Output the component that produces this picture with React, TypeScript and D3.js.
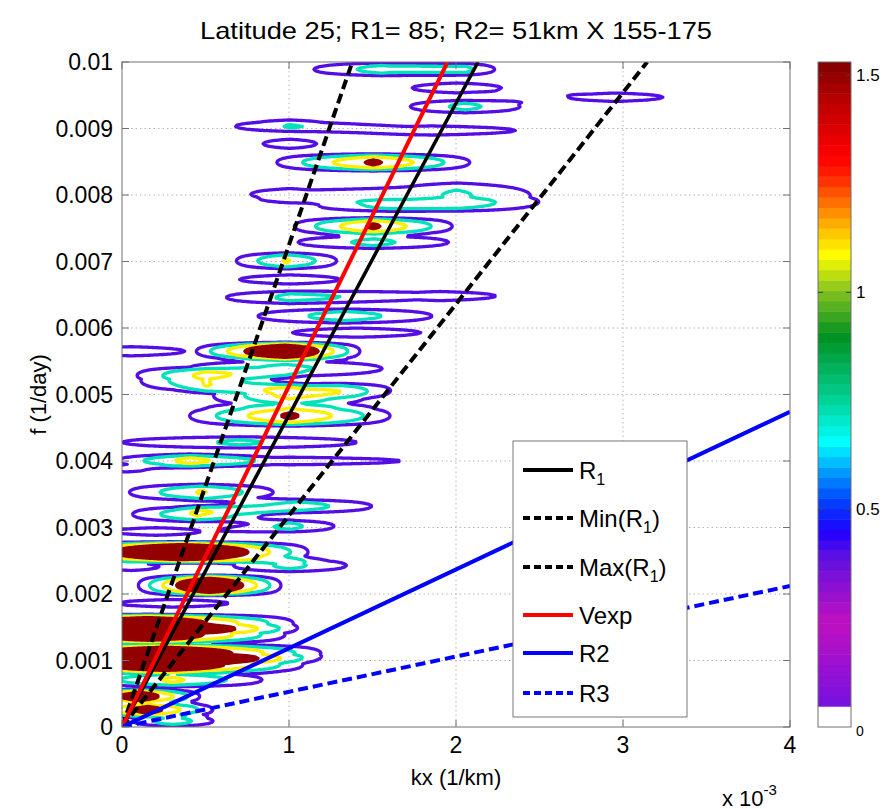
import React from 'react';
import * as d3 from 'd3';

// ---------- data ----------
const titleText = 'Latitude 25; R1= 85; R2= 51km X 155-175';
const kxTicks = [0, 1, 2, 3, 4]; // x 10^-3 1/km
const kxTickLabels = ['0', '1', '2', '3', '4'];
const fTicks = [0, 1, 2, 3, 4, 5, 6, 7, 8, 9, 10]; // x 10^-3 1/day
const fTickLabels = ['0', '0.001', '0.002', '0.003', '0.004', '0.005', '0.006', '0.007', '0.008', '0.009', '0.01'];
const cbTicks = [0, 0.5, 1, 1.5];
const cbTickLabels = ['0', '0.5', '1', '1.5'];
const cbMax = 1.53;

// colormap stops (value -> colour)
const cmapStops = [0, 0.045, 0.05, 0.1, 0.24, 0.39, 0.45, 0.52, 0.59, 0.655, 0.76, 0.9, 1.0, 1.085, 1.17, 1.27, 1.31, 1.43, 1.53];
const cmapColors = ['#ffffff', '#ffffff', '#7414e0', '#8a10d8', '#c010c0', '#6010e0', '#2000ff', '#0040ff', '#00a0ff', '#00ffff', '#00d090', '#009020', '#80c020', '#ffff00', '#ffa000', '#ff2000', '#ff0000', '#c00000', '#800000'];

// contour levels
const contourLevels = [0.4, 0.72, 1.1, 1.5];

// spectral peaks: [kx (1e-3), f (1e-3), amplitude, kx half-width (1e-3), f half-height (1e-3)]
const peaks: number[][] = [
  [1.55, 9.88, 0.9, 0.73, 0.13],
  [2.05, 9.88, 0.55, 0.45, 0.12],
  [2.0, 9.6, 0.6, 0.8, 0.13],
  [2.95, 9.46, 0.6, 0.85, 0.11],
  [2.05, 9.32, 0.85, 0.62, 0.13],
  [1.0, 9.05, 0.6, 0.7, 0.12],
  [1.85, 8.96, 0.6, 1.5, 0.12],
  [1.0, 8.76, 0.6, 0.48, 0.12],
  [1.5, 8.48, 1.6, 0.77, 0.15],
  [1.0, 8.0, 0.6, 0.7, 0.15],
  [2.0, 7.98, 0.8, 0.88, 0.27],
  [1.6, 7.83, 0.6, 1.1, 0.12],
  [1.5, 7.52, 1.6, 0.63, 0.15],
  [1.5, 7.28, 0.85, 0.85, 0.13],
  [0.98, 7.0, 1.15, 0.46, 0.15],
  [1.0, 6.72, 0.6, 0.9, 0.12],
  [1.0, 6.45, 0.8, 0.76, 0.13],
  [1.9, 6.47, 0.6, 1.0, 0.12],
  [1.33, 6.17, 0.95, 0.9, 0.14],
  [1.4, 5.92, 0.6, 1.15, 0.12],
  [0.97, 5.64, 2.38, 0.54, 0.15],
  [0.05, 5.64, 0.6, 0.96, 0.12],
  [0.97, 5.38, 0.85, 1.1, 0.16],
  [0.5, 5.2, 1.15, 0.6, 0.2],
  [1.0, 4.97, 1.15, 0.7, 0.2],
  [1.0, 4.67, 1.6, 0.8, 0.18],
  [1.3, 5.07, 0.55, 0.6, 0.14],
  [0.7, 4.27, 0.8, 1.4, 0.12],
  [0.4, 4.0, 0.85, 0.5, 0.13],
  [1.0, 3.99, 0.6, 2.0, 0.1],
  [0.02, 3.86, 0.5, 0.6, 0.08],
  [0.47, 3.52, 1.15, 0.66, 0.15],
  [1.05, 3.31, 0.95, 0.76, 0.13],
  [0.45, 3.19, 1.15, 0.6, 0.14],
  [1.0, 3.01, 0.85, 0.5, 0.12],
  [0.2, 2.93, 0.6, 0.8, 0.1],
  [0.35, 2.62, 2.72, 0.89, 0.17],
  [1.0, 2.42, 0.85, 0.64, 0.13],
  [0.05, 2.4, 0.6, 0.5, 0.1],
  [0.52, 2.12, 2.45, 0.51, 0.17],
  [0.3, 1.85, 0.6, 1.0, 0.1],
  [0.15, 1.55, 2.24, 1.06, 0.15],
  [0.15, 1.38, 2.24, 1.0, 0.15],
  [0.25, 1.1, 2.33, 1.13, 0.15],
  [0.25, 0.93, 2.33, 1.0, 0.15],
  [0.3, 0.7, 1.2, 0.8, 0.13],
  [0.1, 0.45, 2.0, 0.45, 0.12],
  [0.15, 0.25, 1.8, 0.5, 0.12],
  [0.3, 0.08, 1.0, 0.4, 0.1],
];

// dispersion lines f = slope * kx (both in 1e-3 units)
const lineNames = ['R1', 'Min(R1)', 'Max(R1)', 'Vexp', 'R2', 'R3'];
const lineSlopes = [4.69, 7.25, 3.18, 5.13, 1.185, 0.53];
const lineColors = ['#000000', '#000000', '#000000', '#ff0000', '#0000ff', '#0000ff'];
const lineDashed = [false, true, true, false, false, true];

// ---------- layout ----------
const W = 887, H = 809;
const PL = 122, PR = 790, PT = 62, PB = 727;
const CBL = 818, CBR = 851;
const FONT = 'Liberation Sans, Arial, Helvetica, sans-serif';

export default function App() {
  const xS = d3.scaleLinear().domain([0, 4]).range([PL, PR]);
  const yS = d3.scaleLinear().domain([0, 10]).range([PB, PT]);
  const cbS = d3.scaleLinear().domain([0, cbMax]).range([PB, PT]);
  const cmap = d3.scaleLinear<string>().domain(cmapStops).range(cmapColors).clamp(true);

  // grid of spectral energy
  const X0 = -0.6, X1 = 4.4, Y0 = -0.4, Y1 = 10.4, DX = 0.01, DY = 0.02;
  const nx = Math.round((X1 - X0) / DX) + 1;
  const ny = Math.round((Y1 - Y0) / DY) + 1;
  const vals = new Float64Array(nx * ny);
  peaks.forEach(([k, f, a, w, h]) => {
    const i0 = Math.max(0, Math.floor((k - w - X0) / DX));
    const i1 = Math.min(nx - 1, Math.ceil((k + w - X0) / DX));
    const j0 = Math.max(0, Math.floor((f - h - Y0) / DY));
    const j1 = Math.min(ny - 1, Math.ceil((f + h - Y0) / DY));
    for (let j = j0; j <= j1; j++) {
      const dy = (Y0 + j * DY - f) / h;
      if (Math.abs(dy) >= 1) continue;
      const vy = 1 - dy * dy;
      for (let i = i0; i <= i1; i++) {
        const dx = Math.abs(X0 + i * DX - k) / w;
        if (dx >= 1) continue;
        vals[j * nx + i] += a * (1 - dx) * vy;
      }
    }
  });
  const contours = d3.contours().size([nx, ny]).thresholds(contourLevels)(Array.from(vals));
  const proj = d3.geoTransform({
    point(x: number, y: number) {
      (this as any).stream.point(xS(X0 + x * DX), yS(Y0 + y * DY));
    },
  });
  const geo = d3.geoPath(proj);

  const lineGen = d3.line<[number, number]>().x((d) => xS(d[0])).y((d) => yS(d[1]));

  const nBands = 64;
  const bandH = (PB - PT) / nBands;

  const legendY = [470, 518, 567, 615, 653, 693];

  const renderLegendLabel = (name: string, y: number) => {
    const m = name.match(/^(.*R)1(\)?)$/);
    if (m) {
      return (
        <text x={579} y={y} fontSize={24} fontFamily={FONT} dominantBaseline="central" fill="#000">
          {m[1]}
          <tspan dy={9} fontSize={16}>1</tspan>
          {m[2] ? <tspan dy={-9}>{m[2]}</tspan> : null}
        </text>
      );
    }
    return (
      <text x={579} y={y} fontSize={24} fontFamily={FONT} dominantBaseline="central" fill="#000">
        {name}
      </text>
    );
  };

  return (
    <svg width={W} height={H} style={{ position: 'absolute', left: 0, top: 0, background: '#fff' }}>
      <defs>
        <clipPath id="plotClip">
          <rect x={PL} y={PT} width={PR - PL} height={PB - PT} />
        </clipPath>
      </defs>
      <rect x={0} y={0} width={W} height={H} fill="#fff" />
      {/* title */}
      <text x={(PL + PR) / 2} y={30} textAnchor="middle" dominantBaseline="central" fontSize={24} fontFamily={FONT}
        textLength={512} lengthAdjust="spacingAndGlyphs">{titleText}</text>

      {/* grid */}
      <g stroke="#b4b4b4" strokeWidth={1} strokeDasharray="1.5,3">
        {kxTicks.filter((t) => t > 0 && t < 4).map((t) => (
          <line key={'gx' + t} x1={xS(t)} x2={xS(t)} y1={PT} y2={PB} />
        ))}
        {fTicks.filter((t) => t > 0 && t < 10).map((t) => (
          <line key={'gy' + t} x1={PL} x2={PR} y1={yS(t)} y2={yS(t)} />
        ))}
      </g>

      {/* contours */}
      <g clipPath="url(#plotClip)">
        {contours.map((c, i) => (
          <path key={'c' + i} d={geo(c as any) || ''}
            fill={c.value >= 1.5 ? cmap(c.value) : 'none'}
            stroke={cmap(c.value)} strokeWidth={3.3} strokeLinejoin="round" />
        ))}
        {lineSlopes.map((s, i) => {
          const kEnd = Math.min(4, 10 / s);
          return (
            <path key={'l' + i} d={lineGen([[0, 0], [kEnd, s * kEnd]]) || ''}
              fill="none" stroke={lineColors[i]} strokeWidth={i === 0 ? 3.5 : 4}
              strokeDasharray={lineDashed[i] ? '10,5' : undefined} />
          );
        })}
      </g>

      {/* frame and ticks */}
      <rect x={PL} y={PT} width={PR - PL} height={PB - PT} fill="none" stroke="#707070" strokeWidth={1} />
      <g stroke="#707070" strokeWidth={1}>
        {kxTicks.map((t) => (
          <g key={'tx' + t}>
            <line x1={xS(t)} x2={xS(t)} y1={PB} y2={PB - 7} />
            <line x1={xS(t)} x2={xS(t)} y1={PT} y2={PT + 7} />
          </g>
        ))}
        {fTicks.map((t) => (
          <g key={'ty' + t}>
            <line x1={PL} x2={PL + 7} y1={yS(t)} y2={yS(t)} />
            <line x1={PR} x2={PR - 7} y1={yS(t)} y2={yS(t)} />
          </g>
        ))}
      </g>
      {kxTicks.map((t, i) => (
        <text key={'xl' + t} x={xS(t)} y={745} textAnchor="middle" dominantBaseline="central" fontSize={23} fontFamily={FONT}>
          {kxTickLabels[i]}
        </text>
      ))}
      {fTicks.map((t, i) => (
        <text key={'yl' + t} x={113} y={yS(t)} textAnchor="end" dominantBaseline="central" fontSize={23} fontFamily={FONT}>
          {fTickLabels[i]}
        </text>
      ))}
      <text x={(PL + PR) / 2} y={777} textAnchor="middle" dominantBaseline="central" fontSize={22} fontFamily={FONT}>kx (1/km)</text>
      <text x={722} y={798} dominantBaseline="central" fontSize={22} fontFamily={FONT}>
        x 10<tspan dy={-9} fontSize={15}>-3</tspan>
      </text>
      <text transform={`translate(38, ${(PT + PB) / 2}) rotate(-90)`} textAnchor="middle" dominantBaseline="central" fontSize={22} fontFamily={FONT}>f (1/day)</text>

      {/* legend */}
      <rect x={513} y={441} width={174} height={276} fill="#fff" stroke="#777" strokeWidth={1} />
      {lineNames.map((n, i) => (
        <g key={'lg' + i}>
          <line x1={523} x2={573} y1={legendY[i]} y2={legendY[i]} stroke={lineColors[i]} strokeWidth={4}
            strokeDasharray={lineDashed[i] ? '7,4' : undefined} />
          {renderLegendLabel(n, legendY[i])}
        </g>
      ))}

      {/* colorbar */}
      {d3.range(nBands).map((b) => {
        const v0 = (b / nBands) * cbMax;
        const v1 = ((b + 1) / nBands) * cbMax;
        return (
          <rect key={'cb' + b} x={CBL} width={CBR - CBL} y={cbS(v1)} height={bandH + 0.5}
            fill={cmap((v0 + v1) / 2)} />
        );
      })}
      <rect x={CBL} y={PT} width={CBR - CBL} height={PB - PT} fill="none" stroke="#707070" strokeWidth={1} />
      <g stroke="#444" strokeWidth={1}>
        {cbTicks.filter((t) => t > 0).map((t) => (
          <g key={'cbt' + t}>
            <line x1={CBL} x2={CBL + 5} y1={cbS(t)} y2={cbS(t)} />
            <line x1={CBR} x2={CBR - 5} y1={cbS(t)} y2={cbS(t)} />
          </g>
        ))}
      </g>
      {cbTicks.map((t, i) => (
        <text key={'cbl' + t} x={856} y={t === 0 ? cbS(t) + 4 : cbS(t)} dominantBaseline="central"
          fontSize={t === 0 ? 14 : 17} fontFamily={FONT}>
          {cbTickLabels[i]}
        </text>
      ))}
    </svg>
  );
}
